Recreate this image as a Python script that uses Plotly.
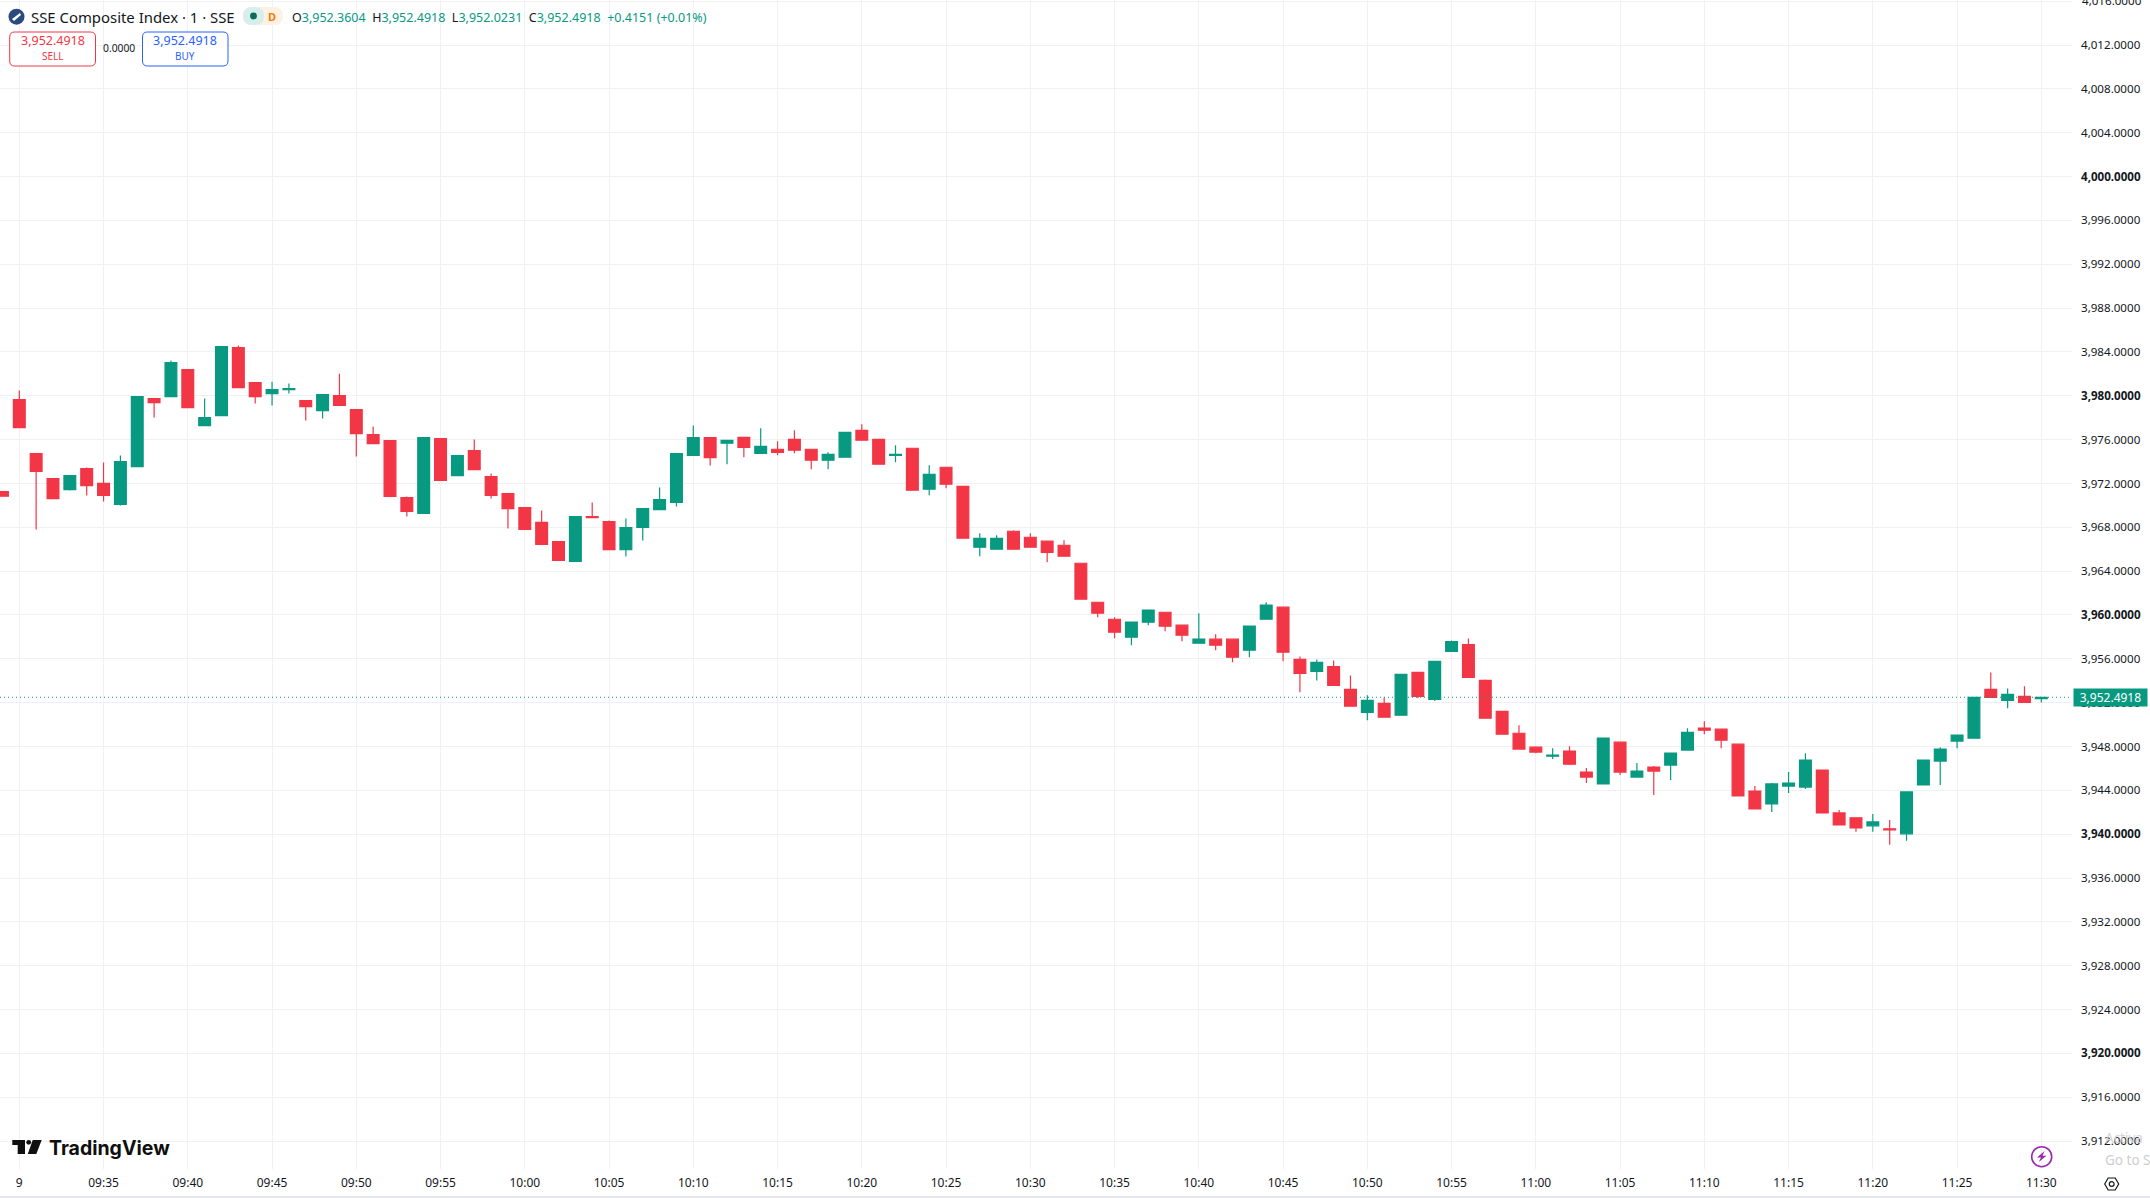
import pandas as pd
import plotly.graph_objects as go

opens = [3971.26,3979.65,3974.73,3972.45,3971.44,3973.36,3972.00,3970.08,3973.54,3979.74,3979.93,3982.39,3977.28,3978.19,3984.40,3981.20,3980.20,3980.56,3979.56,3978.65,3980.02,3978.74,3976.46,3975.91,3970.72,3969.26,3976.10,3972.72,3975.00,3972.63,3971.08,3969.80,3968.44,3966.70,3964.88,3968.98,3968.53,3965.97,3967.98,3969.62,3970.26,3974.55,3976.19,
3975.67,3976.21,3974.75,3975.12,3976.03,3975.12,3974.12,3974.39,3976.85,3976.03,3974.57,3975.21,3971.47,3973.48,3971.74,3966.18,3966.00,3967.64,3967.09,3966.73,3966.36,3964.72,3961.16,3959.61,3957.97,3959.34,3960.25,3959.07,3957.43,3957.79,3957.79,3956.79,3959.61,3960.71,3955.94,3954.85,3955.30,3953.21,3951.12,3951.94,3950.85,3954.76,3952.30,3956.67,3957.30,3954.03,3951.21,3949.21,3947.94,3947.12,3947.58,3945.67,3944.58,3948.39,3945.21,3946.12,3946.30,3947.67,3949.67,3949.58,3948.21,3943.94,3942.76,3944.39,3944.30,3945.85,3941.94,3941.49,3940.76,3940.49,3940.03,3944.49,3946.67,3948.49,3948.76,3953.21,3952.21,3952.58,3952.36]
highs = [3971.30,3980.47,3974.73,3972.45,3972.72,3973.45,3973.91,3974.55,3979.93,3979.74,3983.21,3982.39,3979.74,3984.49,3984.58,3981.20,3981.29,3981.11,3979.56,3980.11,3982.02,3978.74,3977.19,3975.91,3970.81,3976.19,3976.10,3974.55,3976.00,3972.90,3971.08,3969.80,3969.53,3966.70,3968.98,3970.26,3968.62,3968.80,3969.71,3971.63,3974.73,3977.28,3976.19,
3975.94,3976.21,3977.03,3975.85,3976.85,3975.12,3974.84,3976.67,3977.40,3976.03,3975.48,3975.21,3973.66,3973.48,3971.74,3967.46,3967.28,3967.73,3967.46,3966.73,3966.82,3964.72,3961.16,3959.80,3959.34,3960.44,3960.25,3959.07,3960.16,3958.25,3957.79,3958.98,3961.16,3960.71,3956.20,3955.94,3955.85,3954.48,3952.67,3952.48,3954.58,3954.76,3955.76,3957.67,3957.85,3954.12,3951.21,3949.94,3948.03,3947.85,3948.03,3946.03,3948.76,3948.39,3946.49,3946.21,3947.39,3949.67,3950.30,3949.58,3948.21,3944.39,3944.67,3945.67,3947.39,3945.85,3942.21,3941.49,3941.85,3941.30,3943.90,3946.76,3947.94,3949.03,3952.49,3954.76,3953.30,3953.49,3952.4918]
lows = [3970.84,3977.10,3967.80,3970.62,3971.35,3970.90,3970.35,3969.99,3973.54,3978.01,3979.93,3978.92,3977.28,3978.19,3980.75,3979.29,3979.11,3980.20,3977.74,3977.92,3979.11,3974.45,3975.64,3970.81,3968.98,3969.26,3972.27,3972.72,3973.27,3970.62,3967.89,3967.80,3966.43,3964.97,3964.88,3968.89,3965.97,3965.33,3966.79,3969.62,3969.90,3974.55,3973.63,
3973.75,3974.39,3974.75,3974.57,3974.75,3973.29,3973.29,3974.39,3975.94,3973.75,3973.93,3971.38,3970.92,3971.56,3967.00,3965.36,3966.00,3966.00,3966.18,3964.81,3965.36,3961.44,3959.80,3957.88,3957.24,3959.07,3958.52,3957.61,3957.43,3956.79,3955.69,3956.15,3959.61,3955.78,3952.94,3954.03,3953.58,3951.67,3950.39,3950.67,3950.85,3952.40,3952.15,3956.67,3954.30,3950.58,3949.12,3947.76,3947.39,3946.85,3946.30,3944.67,3944.58,3945.39,3945.21,3943.58,3944.94,3947.67,3949.12,3947.85,3943.49,3942.30,3942.03,3943.76,3944.12,3941.94,3940.85,3940.21,3940.21,3939.03,3939.39,3944.49,3944.49,3947.85,3948.76,3952.49,3951.49,3952.03,3952.0231]
closes = [3970.84,3977.10,3973.09,3970.62,3972.72,3971.81,3970.90,3974.00,3979.93,3979.38,3983.03,3978.92,3978.01,3984.49,3980.75,3979.93,3980.56,3980.66,3979.01,3980.11,3979.11,3976.55,3975.64,3970.81,3969.44,3976.19,3972.27,3974.55,3973.27,3970.90,3969.71,3967.80,3966.43,3964.97,3968.98,3968.89,3965.97,3967.98,3969.71,3970.53,3974.73,3976.19,3974.36,
3975.94,3975.30,3975.39,3974.84,3975.03,3974.12,3974.66,3976.67,3975.94,3973.75,3974.66,3971.38,3972.84,3971.93,3967.00,3967.00,3967.00,3966.00,3966.18,3965.72,3965.36,3961.44,3960.16,3958.43,3959.34,3960.44,3958.98,3958.16,3957.79,3957.24,3956.15,3958.98,3960.89,3956.60,3954.67,3955.67,3953.58,3951.67,3952.21,3950.67,3954.58,3952.58,3955.76,3957.58,3954.30,3950.58,3949.12,3947.76,3947.49,3947.21,3946.39,3945.21,3948.76,3945.67,3945.76,3945.76,3947.39,3949.30,3949.49,3948.58,3943.49,3942.30,3944.58,3944.67,3946.76,3941.94,3940.85,3940.58,3941.12,3940.39,3943.85,3946.76,3947.76,3949.03,3952.49,3952.49,3952.76,3952.03,3952.4918]

times = pd.date_range("2026-01-09 09:29", periods=len(opens), freq="min")
x_tick_labels = ["9","09:35","09:40","09:45","09:50","09:55","10:00","10:05","10:10","10:15","10:20","10:25","10:30","10:35","10:40","10:45","10:50","10:55","11:00","11:05","11:10","11:15","11:20","11:25","11:30"]
x_tick_vals = pd.date_range("2026-01-09 09:30", periods=len(x_tick_labels), freq="5min")
y_tick_vals = list(range(4016, 3908, -4))
y_tick_text = [(f"<b>{v:,.4f}</b>" if v % 20 == 0 else f"{v:,.4f}") for v in y_tick_vals]
last_price = 3952.4918

GREEN = "#089981"; RED = "#F23645"; BLUE = "#2962FF"; INK = "#131722"; GRID = "#F0F1F3"
W, H, PW, PH = 2150, 1198, 2072, 1169
FONT = "Noto Sans"
px = lambda v: v / PW
py = lambda v: 1 - v / PH

def rrect(x0, y0, x1, y1, r, line=None, fill=None, lw=1):
    x = [px(x0), px(x0 + r), px(x1 - r), px(x1)]
    y = [py(y0), py(y0 + r), py(y1 - r), py(y1)]
    p = (f"M {x[1]} {y[0]} L {x[2]} {y[0]} Q {x[3]} {y[0]} {x[3]} {y[1]} L {x[3]} {y[2]} "
         f"Q {x[3]} {y[3]} {x[2]} {y[3]} L {x[1]} {y[3]} Q {x[0]} {y[3]} {x[0]} {y[2]} "
         f"L {x[0]} {y[1]} Q {x[0]} {y[0]} {x[1]} {y[0]} Z")
    return dict(type="path", xref="paper", yref="paper", path=p, fillcolor=fill or "rgba(0,0,0,0)",
                line=dict(color=line or "rgba(0,0,0,0)", width=lw), layer="above")

def poly(pts, fill=None, line=None, lw=1):
    p = "M " + " L ".join(f"{px(a)} {py(b)}" for a, b in pts) + " Z"
    return dict(type="path", xref="paper", yref="paper", path=p, fillcolor=fill or "rgba(0,0,0,0)",
                line=dict(color=line or "rgba(0,0,0,0)", width=lw), layer="above")

def circ(cx, cy, r, fill=None, line=None, lw=1):
    return dict(type="circle", xref="paper", yref="paper", x0=px(cx - r), x1=px(cx + r), y0=py(cy + r), y1=py(cy - r),
                fillcolor=fill or "rgba(0,0,0,0)", line=dict(color=line or "rgba(0,0,0,0)", width=lw), layer="above")

def label(x, y, text, size=12, color=INK, anchor="left", font=FONT):
    return dict(xref="paper", yref="paper", x=px(x), y=py(y), text=text, showarrow=False, xanchor=anchor, yanchor="middle",
                font=dict(family=font, size=size, color=color), borderpad=0)

fig = go.Figure(go.Candlestick(
    x=times, open=opens, high=highs, low=lows, close=closes, whiskerwidth=0,
    increasing=dict(line=dict(color=GREEN, width=1.2), fillcolor=GREEN),
    decreasing=dict(line=dict(color=RED, width=1.2), fillcolor=RED),
    showlegend=False, hoverinfo="skip"))

shapes = [
    dict(type="line", xref="paper", yref="y", x0=0, x1=1, y0=last_price, y1=last_price,
         line=dict(color=GREEN, width=1, dash="1px,3px"), layer="above"),
    dict(type="line", xref="paper", yref="paper", x0=0, x1=W / PW, y0=py(1197), y1=py(1197),
         line=dict(color="#E4E6EB", width=2), layer="above"),
    # header
    circ(16.5, 16.7, 8, fill="#2B4A7D"),
    poly([(12, 19), (20, 13), (21, 15), (14, 21)], fill="#FFFFFF"),
    rrect(243, 7, 283, 25, 9, fill="#FDF1E3"),
    rrect(243, 7, 264, 25, 9, fill="#D6EFEA"),
    circ(253.5, 16, 3.4, fill="#0B6B5C"),
    rrect(9.7, 32, 95.5, 66, 5, line=RED, fill="#FFFFFF", lw=1),
    rrect(142.5, 32, 228, 66, 5, line=BLUE, fill="#FFFFFF", lw=1),
    # TradingView logo
    poly([(12.3, 1140), (25, 1140), (25, 1154), (17.7, 1154), (17.7, 1145), (12.3, 1145)], fill="#0F0F0F"),
    circ(28.7, 1142.3, 2.4, fill="#0F0F0F"),
    poly([(32.7, 1140), (41.7, 1140), (36.3, 1154), (27.8, 1154)], fill="#0F0F0F"),
    # bolt icon
    circ(2041.7, 1156.7, 10, line="#9C27B0", lw=1.6),
    poly([(2044.5, 1151), (2037, 1157.5), (2041, 1157.5), (2038.8, 1162), (2046.5, 1155.7), (2042.5, 1155.7)], fill="#9C27B0"),
    # settings icon
    poly([(2104.7, 1184), (2108.2, 1178), (2115.2, 1178), (2118.7, 1184), (2115.2, 1190), (2108.2, 1190)], line=INK, lw=1.2),
    circ(2111.7, 1184, 2.4, line=INK, lw=1.2),
]

sep = "  "
g = lambda s: f'<span style="color:{GREEN}">{s}</span>'
ohlc = (f'O{g("3,952.3604")}{sep}H{g("3,952.4918")}{sep}L{g("3,952.0231")}{sep}C{g("3,952.4918")}{sep}{g("+0.4151 (+0.01%)")}')
annotations = [
    label(30, 17, "SSE Composite Index · 1 · SSE", size=14.9),
    label(272, 16, "<b>D</b>", size=11, color="#F57C00", anchor="center"),
    label(291, 17, ohlc, size=12.5),
    label(52.5, 41, "3,952.4918", size=12.5, color=RED, anchor="center"),
    label(52.5, 56, "SELL", size=10, color=RED, anchor="center"),
    label(119, 48.5, "0.0000", size=10.3, color=INK, anchor="center"),
    label(185, 41, "3,952.4918", size=12.5, color=BLUE, anchor="center"),
    label(185, 56, "BUY", size=10, color=BLUE, anchor="center"),
    label(48, 1148, "<b>TradingView</b>", size=19.5, color="#0F0F0F", font="Inter"),
    label(2081, 1, "4,016.0000", size=11.6),
    label(2104, 1138, "Activa", size=13.5, color="#D4D4D4"),
    label(2104, 1160, "Go to S", size=13.5, color="#CFCFCF"),
    dict(xref="paper", yref="paper", x=px(2073), y=py(697.5), text="3,952.4918", showarrow=False, xanchor="left", yanchor="middle",
         font=dict(family=FONT, size=12, color="#FFFFFF"), bgcolor=GREEN, width=73, height=17, borderpad=0, align="center"),
]

fig.update_layout(
    width=W, height=H, autosize=False,
    margin=dict(l=0, r=W - PW, t=0, b=H - PH, pad=0),
    paper_bgcolor="#FFFFFF", plot_bgcolor="#FFFFFF",
    font=dict(family=FONT, size=12, color=INK),
    boxgap=0.3, boxgroupgap=0, shapes=shapes, annotations=annotations, dragmode=False,
    xaxis=dict(type="date", range=[pd.Timestamp("2026-01-09 09:30") - pd.Timedelta(minutes=1.145),
                                   pd.Timestamp("2026-01-09 09:30") + pd.Timedelta(minutes=121.82)],
               rangeslider=dict(visible=False), tickmode="array", tickvals=list(x_tick_vals), ticktext=x_tick_labels,
               showgrid=True, gridcolor=GRID, gridwidth=1, ticks="", ticklen=0, zeroline=False, showline=False,
               tickfont=dict(family=FONT, size=12, color=INK), tickangle=0, ticklabelstandoff=5),
    yaxis=dict(side="right", range=[3909.45, 4016.11], tickmode="array", tickvals=y_tick_vals, ticktext=y_tick_text,
               showgrid=True, gridcolor=GRID, gridwidth=1, ticks="", ticklen=0, zeroline=False, showline=False,
               tickfont=dict(family=FONT, size=11.6, color=INK), ticklabelstandoff=8),
)

fig.write_html("out.html", config=dict(displayModeBar=False, staticPlot=True),
               post_script="document.body.style.margin='0';document.body.style.overflow='hidden';")
